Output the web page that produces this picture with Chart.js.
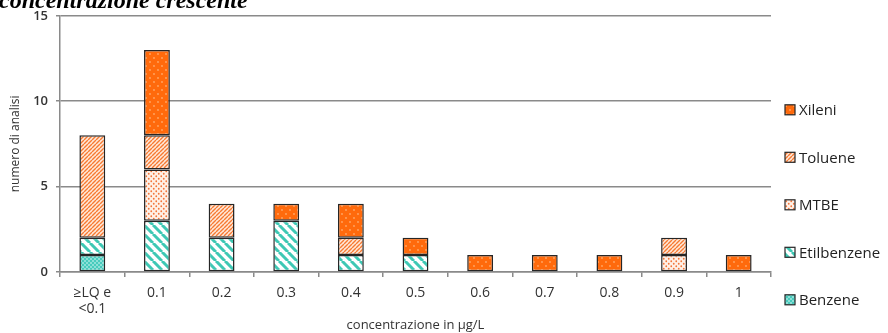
<!DOCTYPE html>
<html>
<head>
<meta charset="utf-8">
<script src="https://cdn.jsdelivr.net/npm/chart.js@4/dist/chart.umd.min.js"></script>
<style>
  body { margin: 0; background: #fff; }
  #wrap { width: 888px; height: 333px; position: relative; }
</style>
</head>
<body>
<div id="wrap"><canvas id="chart"></canvas></div>
<script>
const categories = [['≥LQ e', '<0.1'], '0.1', '0.2', '0.3', '0.4', '0.5', '0.6', '0.7', '0.8', '0.9', '1'];
const benzene     = [1, 0, 0, 0, 0, 0, 0, 0, 0, 0, 0];
const etilbenzene = [1, 3, 2, 3, 1, 1, 0, 0, 0, 0, 0];
const mtbe        = [0, 3, 0, 0, 0, 0, 0, 0, 0, 1, 0];
const toluene     = [6, 2, 2, 0, 1, 0, 0, 0, 0, 1, 0];
const xileni      = [0, 5, 0, 1, 2, 1, 1, 1, 1, 0, 1];
const yTicks = [0, 5, 10, 15];

const canvas = document.getElementById('chart');
const ctx = canvas.getContext('2d');

// small repeating tiles used as bar fills
function makeTile(size, draw) {
  const c = document.createElement('canvas');
  c.width = size;
  c.height = size;
  draw(c.getContext('2d'), size);
  return ctx.createPattern(c, 'repeat');
}

function stripes(size, bg, fg, width, dir) {
  return makeTile(size, (g, s) => {
    g.fillStyle = bg;
    g.fillRect(0, 0, s, s);
    g.strokeStyle = fg;
    g.lineWidth = width;
    g.beginPath();
    for (let k = -1; k <= 1; k++) {
      if (dir > 0) {
        g.moveTo(k * s, s);
        g.lineTo(k * s + s, 0);
      } else {
        g.moveTo(k * s, 0);
        g.lineTo(k * s + s, s);
      }
    }
    g.stroke();
  });
}

function dots(size, bg, fg, r) {
  return makeTile(size, (g, s) => {
    g.fillStyle = bg;
    g.fillRect(0, 0, s, s);
    g.fillStyle = fg;
    [[s / 4, s / 4], [3 * s / 4, 3 * s / 4]].forEach(([x, y]) => {
      g.beginPath();
      g.arc(x, y, r, 0, Math.PI * 2);
      g.fill();
    });
  });
}

const fillXileni = dots(8, '#ff6a0c', '#ffa868', 0.9);
const fillToluene = stripes(4, '#ffe9da', '#f77a32', 1.4, 1);
const fillMtbe = dots(5, '#fff0e6', '#f2763a', 0.9);
const fillEtil = stripes(9, '#ffffff', '#3ec8b4', 3, -1);
const fillBenzene = dots(4, '#48cbbd', '#e6fbf8', 0.8);

const edge = '#262626';

function series(label, data, fill) {
  return {
    label: label,
    data: data,
    backgroundColor: fill,
    borderColor: edge,
    borderWidth: 1.5,
    borderSkipped: false,
    inflateAmount: 0,
    categoryPercentage: 1,
    barPercentage: 0.4
  };
}

// legend on the right, top item = top of the stack
const sideLegend = {
  id: 'sideLegend',
  afterDraw(chart) {
    const c = chart.ctx;
    const area = chart.chartArea;
    const items = chart.data.datasets.slice().reverse();
    c.save();
    c.font = '15px "Open Sans"';
    c.textBaseline = 'middle';
    items.forEach((ds, i) => {
      const x = area.right + 14;
      const y = area.top + 94 + i * 47.5;
      c.fillStyle = ds.backgroundColor;
      c.fillRect(x, y - 5, 10, 10);
      c.strokeStyle = edge;
      c.lineWidth = 1.2;
      c.strokeRect(x, y - 5, 10, 10);
      c.fillStyle = '#222';
      c.fillText(ds.label, x + 14, y + 1);
    });
    c.restore();
  }
};

// heading line running above the plot
const heading = {
  id: 'heading',
  afterDraw(chart) {
    const c = chart.ctx;
    c.save();
    c.font = 'italic bold 24px "Liberation Serif"';
    c.fillStyle = '#000';
    c.textBaseline = 'alphabetic';
    c.fillText('concentrazione crescente', -1, 8);
    c.restore();
  }
};

new Chart(ctx, {
  type: 'bar',
  data: {
    labels: categories,
    datasets: [
      series('Benzene', benzene, fillBenzene),
      series('Etilbenzene', etilbenzene, fillEtil),
      series('MTBE', mtbe, fillMtbe),
      series('Toluene', toluene, fillToluene),
      series('Xileni', xileni, fillXileni)
    ]
  },
  options: {
    responsive: true,
    maintainAspectRatio: false,
    animation: false,
    layout: { padding: { top: 14, right: 117, left: 0, bottom: 0 } },
    plugins: {
      legend: { display: false },
      tooltip: { enabled: false }
    },
    scales: {
      x: {
        stacked: true,
        afterFit(scale) { scale.height = 61; },
        grid: {
          offset: true,
          drawOnChartArea: false,
          color: '#8a8a8a',
          lineWidth: 1.5,
          tickLength: 5
        },
        border: { color: '#8a8a8a', width: 1.5 },
        ticks: {
          color: '#333',
          font: { family: 'Open Sans', size: 14, lineHeight: 1.15 },
          padding: 8,
          maxRotation: 0,
          autoSkip: false
        },
        title: {
          display: true,
          text: 'concentrazione in µg/L',
          color: '#333',
          font: { family: 'Open Sans', size: 13 },
          padding: { top: 2, bottom: 0 }
        }
      },
      y: {
        stacked: true,
        min: 0,
        max: 15,
        afterFit(scale) { scale.width = 60; },
        afterBuildTicks(scale) { scale.ticks = yTicks.map(v => ({ value: v })); },
        grid: {
          color: '#8a8a8a',
          lineWidth: 1.5,
          tickLength: 4
        },
        border: { color: '#8a8a8a', width: 1.5 },
        ticks: {
          color: '#333',
          font: { family: 'Open Sans', size: 13, weight: '600' },
          padding: 8
        },
        title: {
          display: true,
          text: 'numero di analisi',
          color: '#333',
          font: { family: 'Open Sans', size: 12 },
          padding: { top: 8, bottom: 0 }
        }
      }
    }
  },
  plugins: [sideLegend, heading]
});
</script>
</body>
</html>
